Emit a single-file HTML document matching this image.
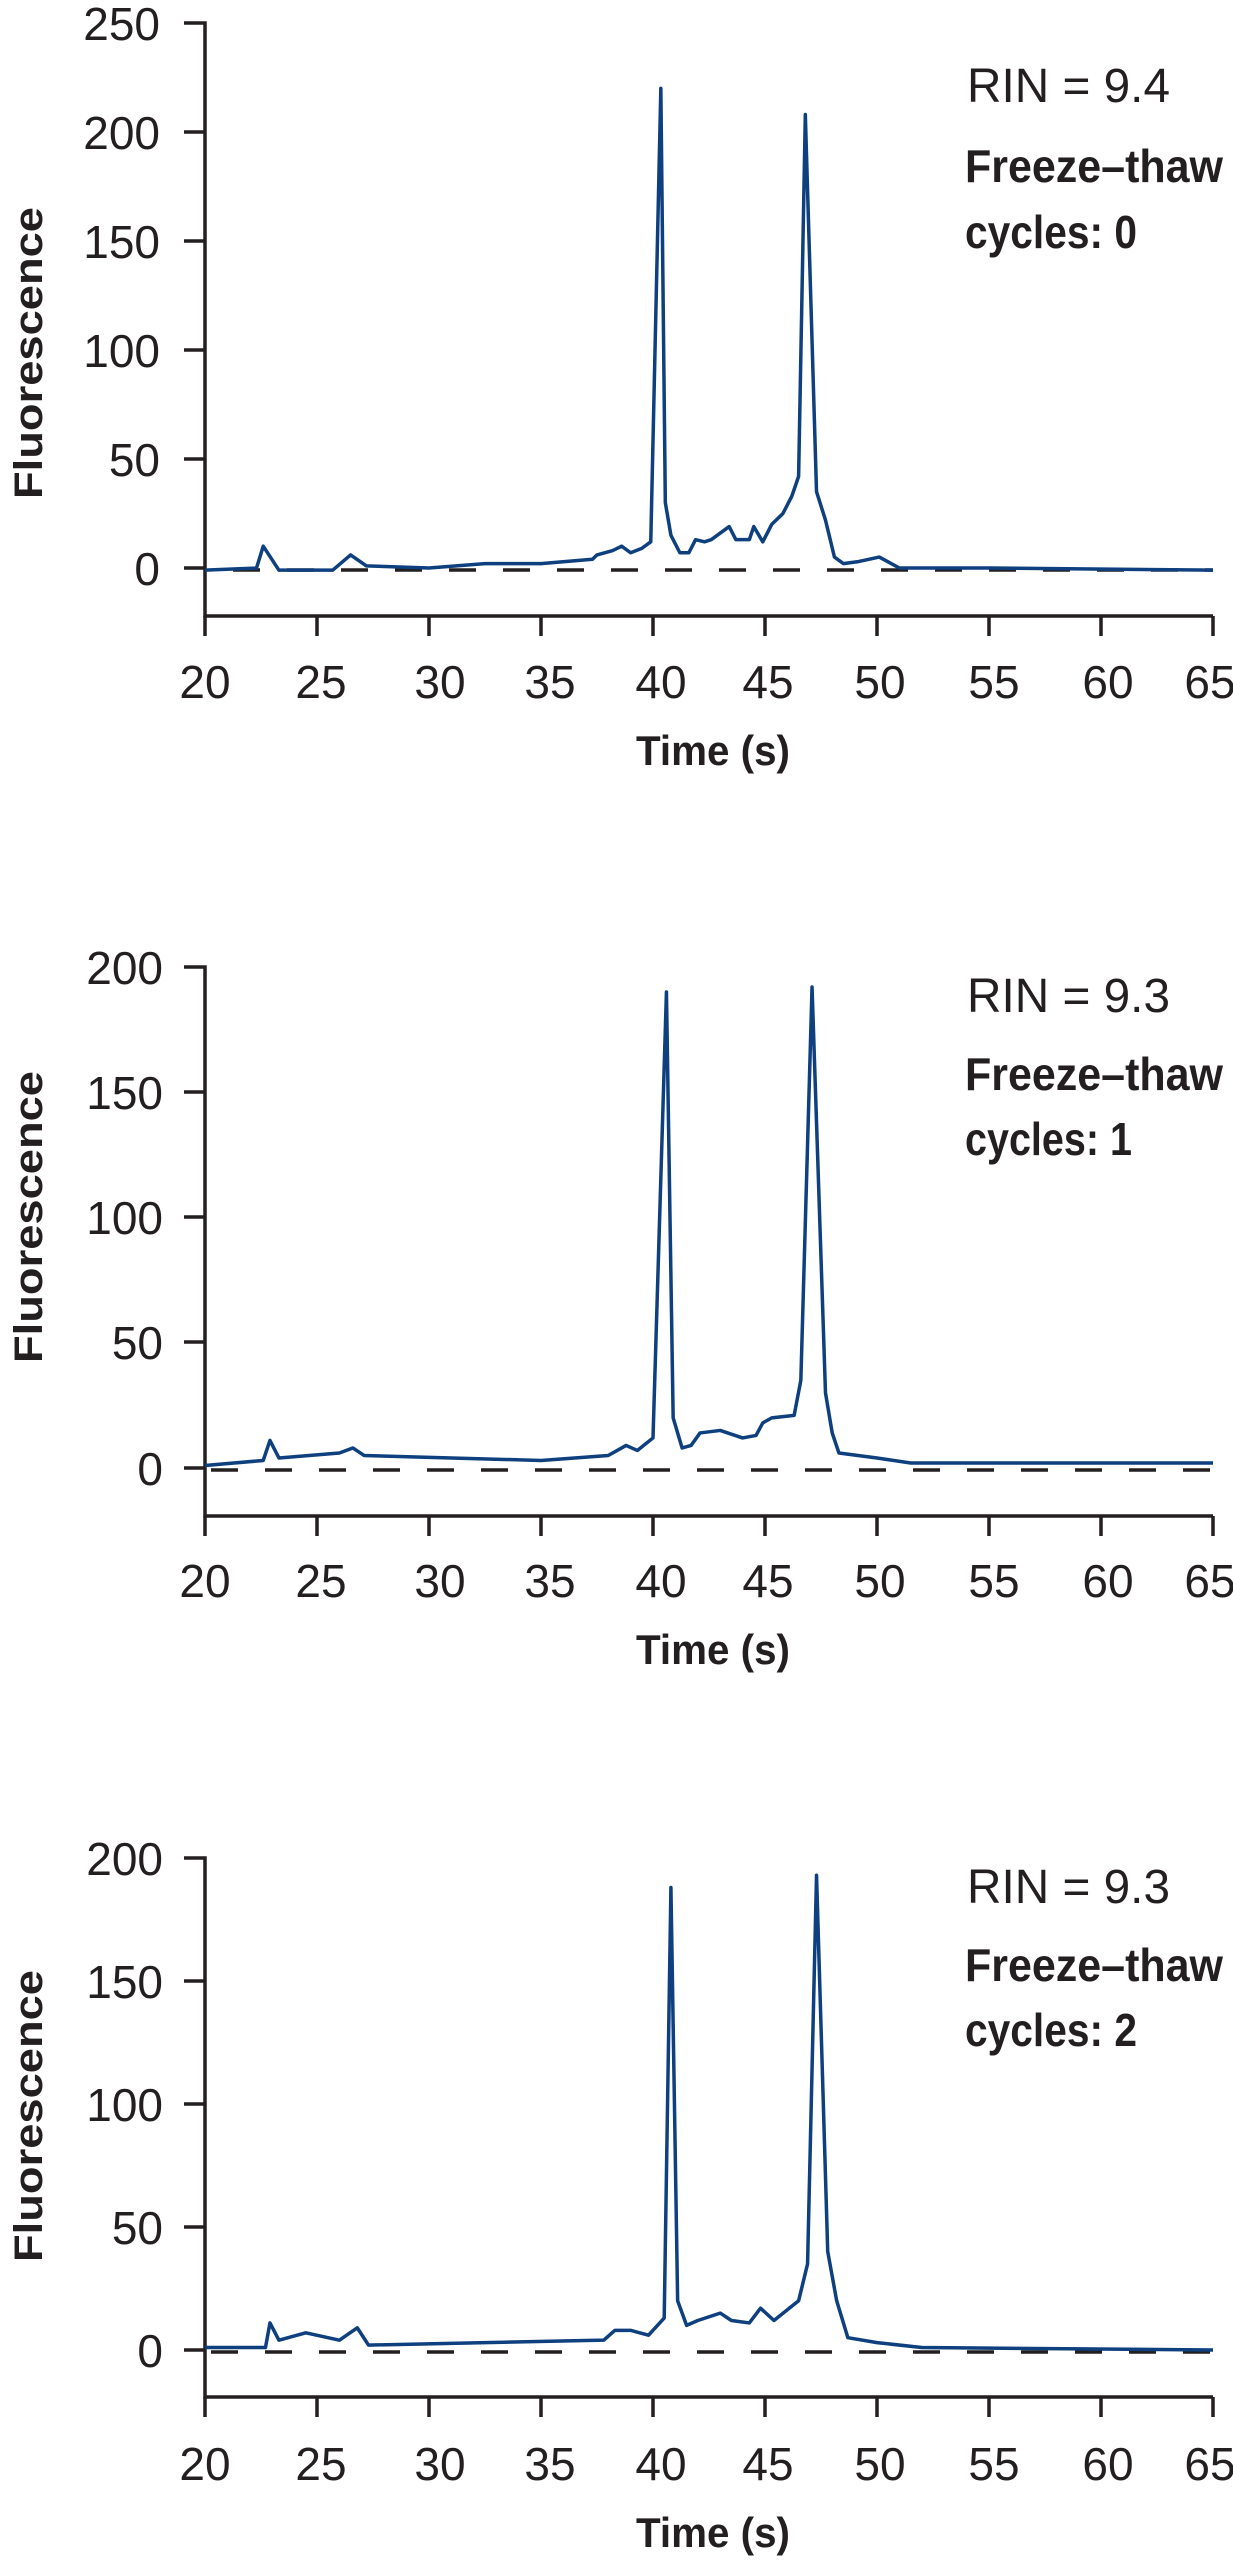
<!DOCTYPE html>
<html><head><meta charset="utf-8"><style>
html,body{margin:0;padding:0;background:#fff;}
svg{display:block}
.t{font-family:"Liberation Sans",sans-serif;font-size:46px;fill:#231f20;}
.b{font-family:"Liberation Sans",sans-serif;font-weight:bold;fill:#231f20;}
</style></head><body>
<svg width="1233" height="2560" viewBox="0 0 1233 2560" xmlns="http://www.w3.org/2000/svg">
<g stroke="#231f20" stroke-width="3.5" fill="none">
<!-- chart1 axes -->
<path d="M184 23H205V616H1213 M184 132H205 M184 241H205 M184 350H205 M184 459H205 M184 568H205"/>
<path d="M205 616V636 M317 616V636 M429 616V636 M541 616V636 M653 616V636 M765 616V636 M877 616V636 M989 616V636 M1101 616V636 M1213 616V636"/>
<path d="M205 570H1213" stroke-dasharray="27 27" stroke-dashoffset="-28"/>
<!-- chart2 axes -->
<path d="M184 967H205V1516H1213 M184 1092H205 M184 1217H205 M184 1342H205 M184 1468H205"/>
<path d="M205 1516V1536 M317 1516V1536 M429 1516V1536 M541 1516V1536 M653 1516V1536 M765 1516V1536 M877 1516V1536 M989 1516V1536 M1101 1516V1536 M1213 1516V1536"/>
<path d="M205 1470H1213" stroke-dasharray="27 27" stroke-dashoffset="-6"/>
<!-- chart3 axes -->
<path d="M184 1858H205V2397H1213 M184 1981H205 M184 2104H205 M184 2227H205 M184 2350H205"/>
<path d="M205 2397V2417 M317 2397V2417 M429 2397V2417 M541 2397V2417 M653 2397V2417 M765 2397V2417 M877 2397V2417 M989 2397V2417 M1101 2397V2417 M1213 2397V2417"/>
<path d="M205 2352H1213" stroke-dasharray="27 27" stroke-dashoffset="-6"/>
</g>
<g fill="none" stroke="#0e3f7e" stroke-width="3.5" stroke-linejoin="round">
<g transform="translate(205,568) scale(22.4,-2.18) translate(-20,0)">
<polyline vector-effect="non-scaling-stroke" points="20,-1 22.3,0 22.6,10 23.3,-1 25.7,-1 26.5,6 27.2,1 30,0 32.5,2 35,2 37.3,4 37.5,6 38.2,8 38.6,10 39,7 39.5,9 39.9,12 40.35,220 40.55,30 40.8,15 41.2,7 41.6,7 41.9,13 42.3,12 42.6,13 43.4,19 43.7,13 44.3,13 44.5,19 44.9,12 45.3,20 45.8,25 46.2,33 46.5,42 46.8,208 47.3,35 47.7,22 48.1,5 48.5,2 49.2,3 50.1,5 51,0 55,0 65,-1"/>
</g>
<g transform="translate(205,1468) scale(22.4,-2.505) translate(-20,0)">
<polyline vector-effect="non-scaling-stroke" points="20,1 22.6,3 22.9,11 23.3,4 26,6 26.6,8 27.1,5 35,3 38,5 38.8,9 39.3,7 40,12 40.6,190 40.9,20 41.3,8 41.7,9 42.1,14 43,15 44,12 44.6,13 44.9,18 45.3,20 46.3,21 46.6,35 47.1,192 47.7,30 48,14 48.3,6 50,4 51.5,2 65,2"/>
</g>
<g transform="translate(205,2350) scale(22.4,-2.46) translate(-20,0)">
<polyline vector-effect="non-scaling-stroke" points="20,1 22.7,1 22.9,11 23.3,4 24.5,7 26,4 26.8,9 27.3,2 37.8,4 38.3,8 39,8 39.8,6 40.5,13 40.8,188 41.1,20 41.5,10 42,12 43,15 43.5,12 44.3,11 44.8,17 45.4,12 46.5,20 46.9,35 47.3,193 47.8,40 48.2,20 48.7,5 50,3 52,1 65,0"/>
</g>
</g>
<!-- y labels -->
<g class="t" text-anchor="end">
<text x="160" y="40">250</text><text x="160" y="149">200</text><text x="160" y="258">150</text><text x="160" y="367">100</text><text x="160" y="476">50</text><text x="160" y="585">0</text>
<text x="163" y="984">200</text><text x="163" y="1109">150</text><text x="163" y="1234">100</text><text x="163" y="1359">50</text><text x="163" y="1485">0</text>
<text x="163" y="1875">200</text><text x="163" y="1998">150</text><text x="163" y="2121">100</text><text x="163" y="2244">50</text><text x="163" y="2367">0</text>
</g>
<!-- x labels -->
<g class="t" text-anchor="middle">
<text x="205" y="698">20</text><text x="321" y="698">25</text><text x="440" y="698">30</text><text x="550" y="698">35</text><text x="661" y="698">40</text><text x="768" y="698">45</text><text x="880" y="698">50</text><text x="994" y="698">55</text><text x="1108" y="698">60</text><text x="1210" y="698">65</text>
<text x="205" y="1597">20</text><text x="321" y="1597">25</text><text x="440" y="1597">30</text><text x="550" y="1597">35</text><text x="661" y="1597">40</text><text x="768" y="1597">45</text><text x="880" y="1597">50</text><text x="994" y="1597">55</text><text x="1108" y="1597">60</text><text x="1210" y="1597">65</text>
<text x="205" y="2480">20</text><text x="321" y="2480">25</text><text x="440" y="2480">30</text><text x="550" y="2480">35</text><text x="661" y="2480">40</text><text x="768" y="2480">45</text><text x="880" y="2480">50</text><text x="994" y="2480">55</text><text x="1108" y="2480">60</text><text x="1210" y="2480">65</text>
</g>
<!-- Time labels -->
<g class="b" font-size="42" text-anchor="middle">
<text x="713" y="765" textLength="154" lengthAdjust="spacingAndGlyphs">Time (s)</text>
<text x="713" y="1664" textLength="154" lengthAdjust="spacingAndGlyphs">Time (s)</text>
<text x="713" y="2547" textLength="154" lengthAdjust="spacingAndGlyphs">Time (s)</text>
</g>
<!-- Fluorescence -->
<g class="b" font-size="40" text-anchor="middle">
<text transform="translate(42,353) rotate(-90)" textLength="292" lengthAdjust="spacingAndGlyphs">Fluorescence</text>
<text transform="translate(42,1217) rotate(-90)" textLength="292" lengthAdjust="spacingAndGlyphs">Fluorescence</text>
<text transform="translate(42,2116) rotate(-90)" textLength="292" lengthAdjust="spacingAndGlyphs">Fluorescence</text>
</g>
<!-- annotations -->
<g font-family="Liberation Sans, sans-serif" fill="#231f20">
<text x="967" y="102" font-size="48" textLength="203" lengthAdjust="spacingAndGlyphs">RIN = 9.4</text>
<text x="965" y="182" font-size="46" font-weight="bold" textLength="258" lengthAdjust="spacingAndGlyphs">Freeze–thaw</text>
<text x="965" y="248" font-size="46" font-weight="bold" textLength="172" lengthAdjust="spacingAndGlyphs">cycles: 0</text>
<text x="967" y="1012" font-size="48" textLength="203" lengthAdjust="spacingAndGlyphs">RIN = 9.3</text>
<text x="965" y="1090" font-size="46" font-weight="bold" textLength="258" lengthAdjust="spacingAndGlyphs">Freeze–thaw</text>
<text x="965" y="1155" font-size="46" font-weight="bold" textLength="167" lengthAdjust="spacingAndGlyphs">cycles: 1</text>
<text x="967" y="1903" font-size="48" textLength="203" lengthAdjust="spacingAndGlyphs">RIN = 9.3</text>
<text x="965" y="1981" font-size="46" font-weight="bold" textLength="258" lengthAdjust="spacingAndGlyphs">Freeze–thaw</text>
<text x="965" y="2046" font-size="46" font-weight="bold" textLength="172" lengthAdjust="spacingAndGlyphs">cycles: 2</text>
</g>
</svg>
</body></html>
